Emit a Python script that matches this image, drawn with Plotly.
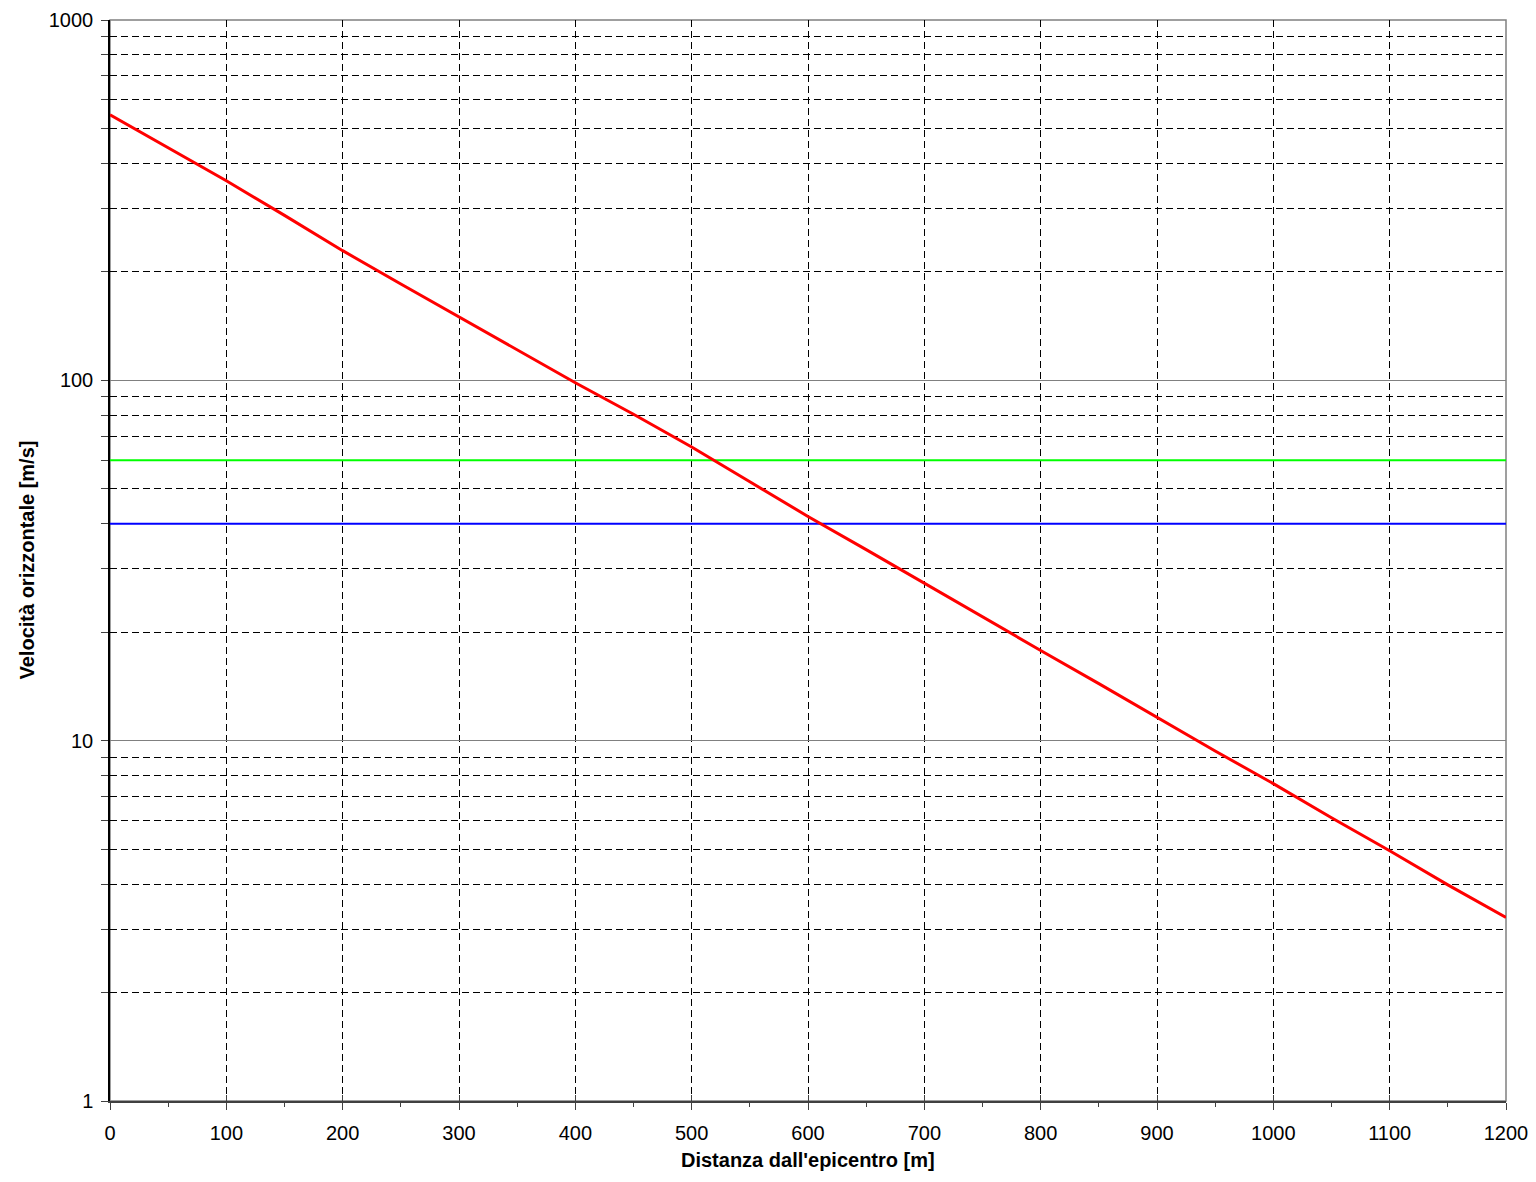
import plotly.graph_objects as go

# Data
distanza = [0, 50, 100, 150, 200, 250, 300, 350, 400, 450, 500, 550, 600,
            650, 700, 750, 800, 850, 900, 950, 1000, 1050, 1100, 1150, 1200]
velocita = [546, 443, 358, 287, 229, 185, 150, 121, 98.5, 80.5, 65.3, 52.3, 41.9,
            33.9, 27.3, 22.1, 17.8, 14.4, 11.6, 9.36, 7.6, 6.11, 4.95, 3.98, 3.23]
soglia_verde = 60
soglia_blu = 40
x_range = [0, 1200]
titolo_x = "<b>Distanza dall'epicentro [m]</b>"
titolo_y = "<b>Velocità orizzontale [m/s]</b>"

FONT = "Liberation Sans, Arial, sans-serif"

fig = go.Figure()
fig.add_trace(go.Scatter(x=x_range, y=[soglia_verde] * 2, mode="lines",
                         line=dict(color="#00FF00", width=2), showlegend=False,
                         hoverinfo="skip"))
fig.add_trace(go.Scatter(x=x_range, y=[soglia_blu] * 2, mode="lines",
                         line=dict(color="#0000FF", width=2), showlegend=False,
                         hoverinfo="skip"))
fig.add_trace(go.Scatter(x=distanza, y=velocita, mode="lines",
                         line=dict(color="#FF0000", width=3), showlegend=False))
# invisible trace to hold the overlay axis (inner half of the major x ticks)
fig.add_trace(go.Scatter(x=x_range, y=[soglia_blu] * 2, mode="lines", xaxis="x2",
                         line=dict(width=0), opacity=0, showlegend=False,
                         hoverinfo="skip"))

fig.update_layout(
    width=1520, height=1166,
    margin=dict(l=102, r=22, t=12, b=73),
    plot_bgcolor="white", paper_bgcolor="white",
    font=dict(family=FONT, size=20, color="black"),
    shapes=[dict(type="rect", xref="paper", yref="paper", x0=0, y0=0, x1=1, y1=1,
                 line=dict(color="#808080", width=1.5), layer="below")],
    xaxis2=dict(overlaying="x", anchor="y", side="bottom", range=x_range,
                dtick=100, tick0=0, ticks="inside", ticklen=6, tickcolor="#404040",
                showticklabels=False, showgrid=False, zeroline=False, showline=False,
                automargin=False),
    annotations=[dict(text=titolo_y, xref="paper", yref="paper", x=0, y=0.5,
                      xanchor="center", yanchor="middle", xshift=-84, textangle=-90,
                      showarrow=False, font=dict(size=20)),
                 dict(text=titolo_x, xref="paper", yref="paper", x=0.5, y=0,
                      xanchor="center", yanchor="middle", yshift=-59,
                      showarrow=False, font=dict(size=20))],
)

fig.layout.xaxis.update(
    range=x_range, dtick=100, tick0=0, automargin=False,
    showgrid=True, gridcolor="black", griddash="7px,4px", gridwidth=1,
    zeroline=False,
    showline=True, linecolor="#404040", linewidth=1.5,
    ticks="outside", ticklen=7, tickcolor="#404040",
    minor=dict(dtick=50, ticks="outside", ticklen=4, tickcolor="#404040", showgrid=False),
    tickfont=dict(size=20), ticklabelstandoff=6, ticklabeloverflow="allow",
)
fig.update_yaxes(
    type="log", range=[0, 3], dtick=1, automargin=False,
    showgrid=True, gridcolor="#808080", gridwidth=1,
    showline=True, linecolor="black", linewidth=1.5,
    ticks="outside", ticklen=7, tickcolor="#404040",
    minor=dict(dtick="D1", showgrid=True, gridcolor="black", griddash="7px,4px",
               gridwidth=1, ticks="outside", ticklen=7, tickcolor="#404040"),
    tickfont=dict(size=20), ticklabelstandoff=4, ticklabeloverflow="allow",
)

fig.write_html("out.html")
